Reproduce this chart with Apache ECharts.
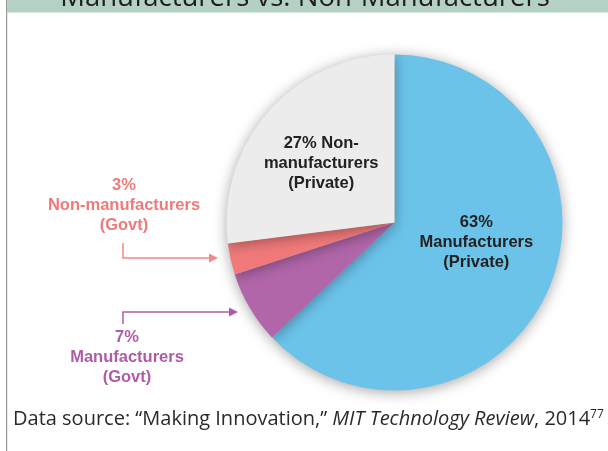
<!DOCTYPE html>
<html>
<head>
<meta charset="utf-8">
<script src="https://cdn.jsdelivr.net/npm/echarts@6/dist/echarts.min.js"></script>
<style>
  html, body { margin: 0; padding: 0; background: #fff; }
  #chart { width: 608px; height: 451px; }
</style>
</head>
<body>
<div id="chart"></div>
<script>
// Share of R&D spending, by sector and funding source
const categories = ['Manufacturers (Private)', 'Manufacturers (Govt)', 'Non-manufacturers (Govt)', 'Non-manufacturers (Private)'];
const shares = [63, 7, 3, 27];
const sliceColors = ['#6cc3ea', '#b166aa', '#f07a7a', '#ececec'];
const sliceLabels = [
  '63%\nManufacturers\n(Private)',
  '',
  '',
  '27% Non-\nmanufacturers\n(Private)'
];
const labelOffsets = [[2, -15], [0, 0], [0, 0], [-8, -2]];

const titleText = 'Manufacturers vs. Non-Manufacturers';
const sourceText = 'Data source: \u201cMaking Innovation,\u201d {i|MIT Technology Review}, 2014{sup|77}';

const chart = echarts.init(document.getElementById('chart'), null, { renderer: 'canvas' });

const pieData = categories.map((name, i) => ({
  name: name,
  value: shares[i],
  itemStyle: { color: sliceColors[i] },
  label: {
    show: sliceLabels[i] !== '',
    formatter: sliceLabels[i],
    offset: labelOffsets[i]
  }
}));

const calloutFont = 'bold 16.5px "Liberation Sans", Arial, sans-serif';

function arrow(points, color) {
  const tip = points[points.length - 1];
  const line = points.slice(0, -1).concat([[tip[0] - 7, tip[1]]]);
  return [
    { type: 'polyline', shape: { points: line }, style: { stroke: color, lineWidth: 1.5, fill: null }, z: 10 },
    { type: 'polygon', shape: { points: [[tip[0], tip[1]], [tip[0] - 9, tip[1] - 4.5], [tip[0] - 9, tip[1] + 4.5]] }, style: { fill: color }, z: 10 }
  ];
}

chart.setOption({
  animation: false,
  backgroundColor: '#ffffff',
  graphic: [
    // frame edge and header band
    { type: 'rect', shape: { x: 6, y: 0, width: 1.2, height: 451 }, style: { fill: '#9a9a9a' } },
    { type: 'rect', shape: { x: 7, y: 0, width: 601, height: 12.5 }, style: { fill: '#b4d1c4' } },
    {
      type: 'text', x: 305, y: 12,
      style: { text: titleText, font: '27.5px "Open Sans", "Noto Sans", sans-serif', fill: '#1e1e1e', textAlign: 'center', textVerticalAlign: 'bottom' }
    },
    // callout for government non-manufacturers
    {
      type: 'text', x: 124, y: 175,
      style: { text: '3%\nNon-manufacturers\n(Govt)', font: calloutFont, fill: '#f07a7a', textAlign: 'center', lineHeight: 20 }
    },
    ...arrow([[123, 243], [123, 258], [218, 258]], '#f28985'),
    // callout for government manufacturers
    {
      type: 'text', x: 127, y: 327,
      style: { text: '7%\nManufacturers\n(Govt)', font: calloutFont, fill: '#b05ba8', textAlign: 'center', lineHeight: 20 }
    },
    ...arrow([[123, 324], [123, 312], [238, 312]], '#b05ba8'),
    // source note
    {
      type: 'text', x: 13, y: 419,
      style: {
        text: sourceText,
        font: '20px "Open Sans", "Noto Sans", sans-serif',
        fill: '#2a2a2a',
        textVerticalAlign: 'middle',
        rich: {
          i: { fontStyle: 'italic', fontSize: 20, fontFamily: '"Open Sans", sans-serif', fill: '#2a2a2a' },
          sup: { fontSize: 12, fontFamily: '"Open Sans", sans-serif', fill: '#2a2a2a', verticalAlign: 'top', padding: [0, 0, 9, 0] }
        }
      }
    }
  ],
  series: [{
    type: 'pie',
    center: [394.5, 222.5],
    radius: [0, 168],
    startAngle: 90,
    clockwise: true,
    silent: true,
    data: pieData,
    itemStyle: {
      borderWidth: 0,
      shadowBlur: 14,
      shadowColor: 'rgba(0,0,0,0.35)',
      shadowOffsetY: 2
    },
    label: {
      position: 'inside',
      color: '#222222',
      fontFamily: '"Liberation Sans", Arial, sans-serif',
      fontWeight: 'bold',
      fontSize: 16.5,
      lineHeight: 20,
      align: 'center'
    },
    labelLine: { show: false },
    emphasis: { disabled: true }
  }]
});
</script>
</body>
</html>
